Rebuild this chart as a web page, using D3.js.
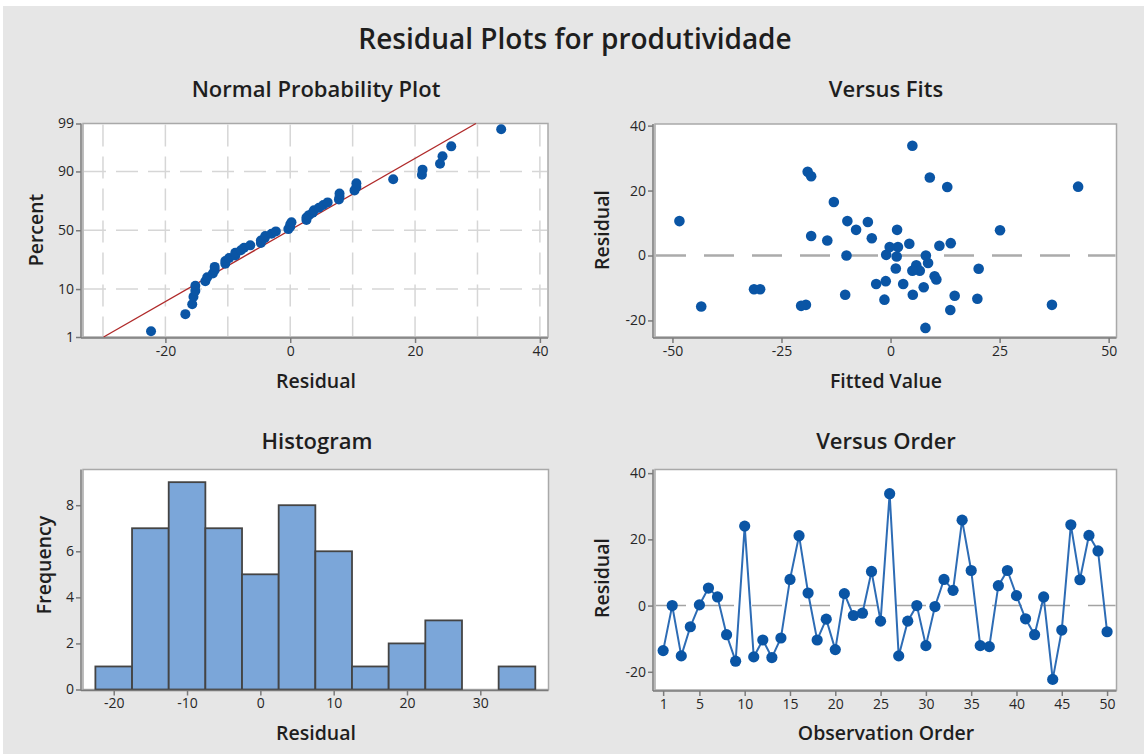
<!DOCTYPE html>
<html>
<head>
<meta charset="utf-8">
<script src="https://cdn.jsdelivr.net/npm/d3@7"></script>
<style>
  html, body { margin: 0; padding: 0; background: #ffffff; }
  svg { display: block; }
  text { font-family: "Open Sans", "Noto Sans", "DejaVu Sans", sans-serif; fill: #1e1e1e; }
  .tick text { fill: #262626; }
</style>
</head>
<body>
<script>
// Residuals of the model for "produtividade", in observation order
const residuals = [
  -13.6, 0.0, -15.2, -6.4, 0.2, 5.3, 2.6, -8.8, -16.8, 24.0,
  -15.5, -10.4, -15.7, -9.8, 7.9, 21.1, 3.8, -10.4, -4.1, -13.3,
  3.6, -3.0, -2.3, 10.3, -4.7, 33.8, -15.2, -4.7, 0.0, -12.1,
  -0.3, 7.9, 4.6, 25.8, 10.6, -12.1, -12.4, 6.0, 10.6, 3.0,
  -4.0, -8.8, 2.6, -22.3, -7.4, 24.4, 7.8, 21.2, 16.5, -7.9
];
// Fitted values, same order
const fitted = [
  -1.4, -10.1, -19.4, 10.1, -1.0, -4.3, 1.7, -3.3, 13.7, 9.0,
  -20.5, -31.3, -43.4, 7.6, 1.5, 13.0, 13.8, -29.9, 20.2, 19.9,
  4.3, 5.9, 8.6, -5.2, 6.7, 5.0, 37.0, 5.0, 8.1, -10.4,
  1.4, -7.9, -14.5, -19.0, -9.9, 5.1, 14.7, -18.2, -48.4, 11.2,
  1.2, 2.9, -0.2, 8.0, 10.5, -18.2, 25.1, 43.0, -13.0, -1.1
];

// Tick labels
const nppResidTicks = [-20, 0, 20, 40];
const nppPercentTicks = [1, 10, 50, 90, 99];
const nppGridX = [-30, -20, -10, 0, 10, 20, 30, 40];
const nppGridPct = [90, 50, 10];
const fitsXTicks = [-50, -25, 0, 25, 50];
const residYTicks = [-20, 0, 20, 40];
const histXTicks = [-20, -10, 0, 10, 20, 30];
const histYTicks = [0, 2, 4, 6, 8];
const orderXTicks = [1, 5, 10, 15, 20, 25, 30, 35, 40, 45, 50];
const binWidth = 5;
const binStart = -22.5;
const binEnd = 37.5;

const W = 1144, H = 754;
const MARK = "#0a55a5";
const LINE = "#2d6cb5";
const TITLE_SIZE = 22, LABEL_SIZE = 19.5, TICK_SIZE = 14;

const svg = d3.select("body").append("svg").attr("width", W).attr("height", H);
svg.append("rect").attr("width", W).attr("height", H).attr("fill", "#ffffff");
svg.append("rect").attr("x", 3).attr("y", 6).attr("width", W - 3).attr("height", H - 6).attr("fill", "#e6e6e6");

// inverse standard normal CDF (Acklam)
function qnorm(p) {
  const a = [-3.969683028665376e+01, 2.209460984245205e+02, -2.759285104469687e+02, 1.383577518672690e+02, -3.066479806614716e+01, 2.506628277459239e+00];
  const b = [-5.447609879822406e+01, 1.615858368580409e+02, -1.556989798598866e+02, 6.680131188771972e+01, -1.328068155288572e+01];
  const c = [-7.784894002430293e-03, -3.223964580411365e-01, -2.400758277161838e+00, -2.549732539343734e+00, 4.374664141464968e+00, 2.938163982698783e+00];
  const d = [7.784695709041462e-03, 3.224671290700398e-01, 2.445134137142996e+00, 3.754408661907416e+00];
  const pl = 0.02425;
  let q, r;
  if (p < pl) {
    q = Math.sqrt(-2 * Math.log(p));
    return (((((c[0]*q+c[1])*q+c[2])*q+c[3])*q+c[4])*q+c[5]) / ((((d[0]*q+d[1])*q+d[2])*q+d[3])*q+1);
  } else if (p <= 1 - pl) {
    q = p - 0.5; r = q * q;
    return (((((a[0]*r+a[1])*r+a[2])*r+a[3])*r+a[4])*r+a[5])*q / (((((b[0]*r+b[1])*r+b[2])*r+b[3])*r+b[4])*r+1);
  } else {
    q = Math.sqrt(-2 * Math.log(1 - p));
    return -(((((c[0]*q+c[1])*q+c[2])*q+c[3])*q+c[4])*q+c[5]) / ((((d[0]*q+d[1])*q+d[2])*q+d[3])*q+1);
  }
}

const plain = d => String(d);

// panel frame + axes helper
function panel(box, xScale, yScale, xTicks, yTicks, yFmt) {
  const g = svg.append("g");
  g.append("rect").attr("x", box.l).attr("y", box.t)
    .attr("width", box.r - box.l).attr("height", box.b - box.t)
    .attr("fill", "#ffffff").attr("stroke", "#a9a9a9").attr("stroke-width", 1.5);
  const ax = svg.append("g").attr("transform", `translate(0,${box.b + 1})`)
    .call(d3.axisBottom(xScale).tickValues(xTicks).tickSizeOuter(0).tickSize(5).tickPadding(3).tickFormat(plain));
  const ay = svg.append("g").attr("transform", `translate(${box.l - 2},0)`)
    .call(d3.axisLeft(yScale).tickValues(yTicks).tickSizeOuter(0).tickSize(5).tickPadding(2).tickFormat(yFmt || plain));
  [ax, ay].forEach(a => {
    a.select(".domain").attr("stroke", "#7a7a7a").attr("stroke-width", 1.5);
    a.selectAll(".tick line").attr("stroke", "#7a7a7a").attr("stroke-width", 1.5);
    a.selectAll(".tick text").attr("font-size", TICK_SIZE).attr("font-family", "'Open Sans', sans-serif");
  });
  ax.select(".domain").attr("d", `M${box.l - 2},0H${box.r}`);
  ay.select(".domain").attr("d", `M0,${box.t}V${box.b + 1}`);
  return g;
}

function label(text, x, y, size, weight, rotate) {
  const t = svg.append("text").attr("text-anchor", "middle").attr("dominant-baseline", "central")
    .attr("font-size", size).attr("font-weight", weight).text(text);
  if (rotate) t.attr("transform", `translate(${x},${y}) rotate(-90)`);
  else t.attr("x", x).attr("y", y);
}

// ---- Normal Probability Plot ----
const nppBox = { l: 83, r: 548, t: 123.5, b: 337 };
const zMax = qnorm(0.99);
const nppX = d3.scaleLinear().domain([-33.2, 41.3]).range([nppBox.l, nppBox.r]);
const nppY = d3.scaleLinear().domain([-zMax, zMax]).range([nppBox.b, nppBox.t]);
const gN = panel(nppBox, nppX, nppY, nppResidTicks, nppPercentTicks.map(p => qnorm(p / 100)),
  (d, i) => nppPercentTicks[i]);
// dashed grid
gN.selectAll("line.gx").data(nppGridX).join("line")
  .attr("x1", d => nppX(d)).attr("x2", d => nppX(d))
  .attr("y1", nppBox.t + 1).attr("y2", nppBox.b - 1)
  .attr("stroke", "#d6d6d6").attr("stroke-width", 1.5).attr("stroke-dasharray", "22,10");
gN.selectAll("line.gy").data(nppGridPct).join("line")
  .attr("x1", nppBox.l + 1).attr("x2", nppBox.r - 1)
  .attr("y1", d => nppY(qnorm(d / 100))).attr("y2", d => nppY(qnorm(d / 100)))
  .attr("stroke", "#d6d6d6").attr("stroke-width", 1.5).attr("stroke-dasharray", "22,10");
const n = residuals.length;
const mean = d3.mean(residuals), sd = d3.deviation(residuals);
const sorted = residuals.slice().sort(d3.ascending);
gN.append("line")
  .attr("x1", nppX(mean - sd * zMax)).attr("y1", nppY(-zMax))
  .attr("x2", nppX(mean + sd * zMax)).attr("y2", nppY(zMax))
  .attr("stroke", "#b02a2a").attr("stroke-width", 1.4);
gN.selectAll("circle").data(sorted).join("circle")
  .attr("cx", d => nppX(d)).attr("cy", (d, i) => nppY(qnorm((i + 1 - 0.3) / (n + 0.4))))
  .attr("r", 5).attr("fill", MARK);
label("Normal Probability Plot", 316, 88, TITLE_SIZE, 600);
label("Percent", 35, 230, LABEL_SIZE, 600, true);
label("Residual", 316, 380, LABEL_SIZE, 600);

// ---- Versus Fits ----
const vfBox = { l: 655, r: 1116.5, t: 124, b: 337 };
const vfX = d3.scaleLinear().domain([-54.0, 51.8]).range([vfBox.l, vfBox.r]);
const vfY = d3.scaleLinear().domain([-25.1, 40.5]).range([vfBox.b, vfBox.t]);
const gF = panel(vfBox, vfX, vfY, fitsXTicks, residYTicks);
gF.append("line").attr("x1", vfBox.l + 1).attr("x2", vfBox.r - 1)
  .attr("y1", vfY(0)).attr("y2", vfY(0))
  .attr("stroke", "#ababab").attr("stroke-width", 2.5).attr("stroke-dasharray", "30,18");
gF.selectAll("circle").data(d3.range(n)).join("circle")
  .attr("cx", i => vfX(fitted[i])).attr("cy", i => vfY(residuals[i]))
  .attr("r", 5.3).attr("fill", MARK);
label("Versus Fits", 886, 88, TITLE_SIZE, 600);
label("Residual", 601, 230, LABEL_SIZE, 600, true);
label("Fitted Value", 886, 380, LABEL_SIZE, 600);

// ---- Histogram ----
const hBox = { l: 83, r: 548.5, t: 469.5, b: 689.5 };
const hX = d3.scaleLinear().domain([-24.19, 39.3]).range([hBox.l, hBox.r]);
const hY = d3.scaleLinear().domain([0, 9.55]).range([hBox.b, hBox.t]);
const gH = panel(hBox, hX, hY, histXTicks, histYTicks);
const bins = d3.bin().domain([binStart, binEnd])
  .thresholds(d3.range(binStart + binWidth, binEnd, binWidth))(residuals);
gH.selectAll("rect.bar").data(bins.filter(b => b.length > 0)).join("rect")
  .attr("class", "bar")
  .attr("x", b => hX(b.x0)).attr("width", b => hX(b.x1) - hX(b.x0))
  .attr("y", b => hY(b.length)).attr("height", b => hY(0) - hY(b.length))
  .attr("fill", "#7ba6d9").attr("stroke", "#444444").attr("stroke-width", 1.8);
label("Histogram", 317, 440, TITLE_SIZE, 600);
label("Frequency", 43, 565, LABEL_SIZE, 600, true);
label("Residual", 316, 732, LABEL_SIZE, 600);

// ---- Versus Order ----
const voBox = { l: 655, r: 1116.5, t: 469.5, b: 690 };
const voX = d3.scaleLinear().domain([0.1, 51.04]).range([voBox.l, voBox.r]);
const voY = d3.scaleLinear().domain([-25.5, 41.1]).range([voBox.b, voBox.t]);
const gO = panel(voBox, voX, voY, orderXTicks, residYTicks);
gO.append("line").attr("x1", voBox.l + 1).attr("x2", voBox.r - 1)
  .attr("y1", voY(0)).attr("y2", voY(0))
  .attr("stroke", "#a3a3a3").attr("stroke-width", 1.6).attr("stroke-dasharray", "30,18");
gO.append("path").datum(residuals)
  .attr("d", d3.line().x((d, i) => voX(i + 1)).y(d => voY(d)))
  .attr("fill", "none").attr("stroke", LINE).attr("stroke-width", 2);
gO.selectAll("circle").data(residuals).join("circle")
  .attr("cx", (d, i) => voX(i + 1)).attr("cy", d => voY(d))
  .attr("r", 5.6).attr("fill", MARK);
label("Versus Order", 886, 440, TITLE_SIZE, 600);
label("Residual", 601, 578, LABEL_SIZE, 600, true);
label("Observation Order", 886, 732, LABEL_SIZE, 600);

// ---- main title ----
label("Residual Plots for produtividade", 575, 38, 28, 600);
</script>
</body>
</html>
